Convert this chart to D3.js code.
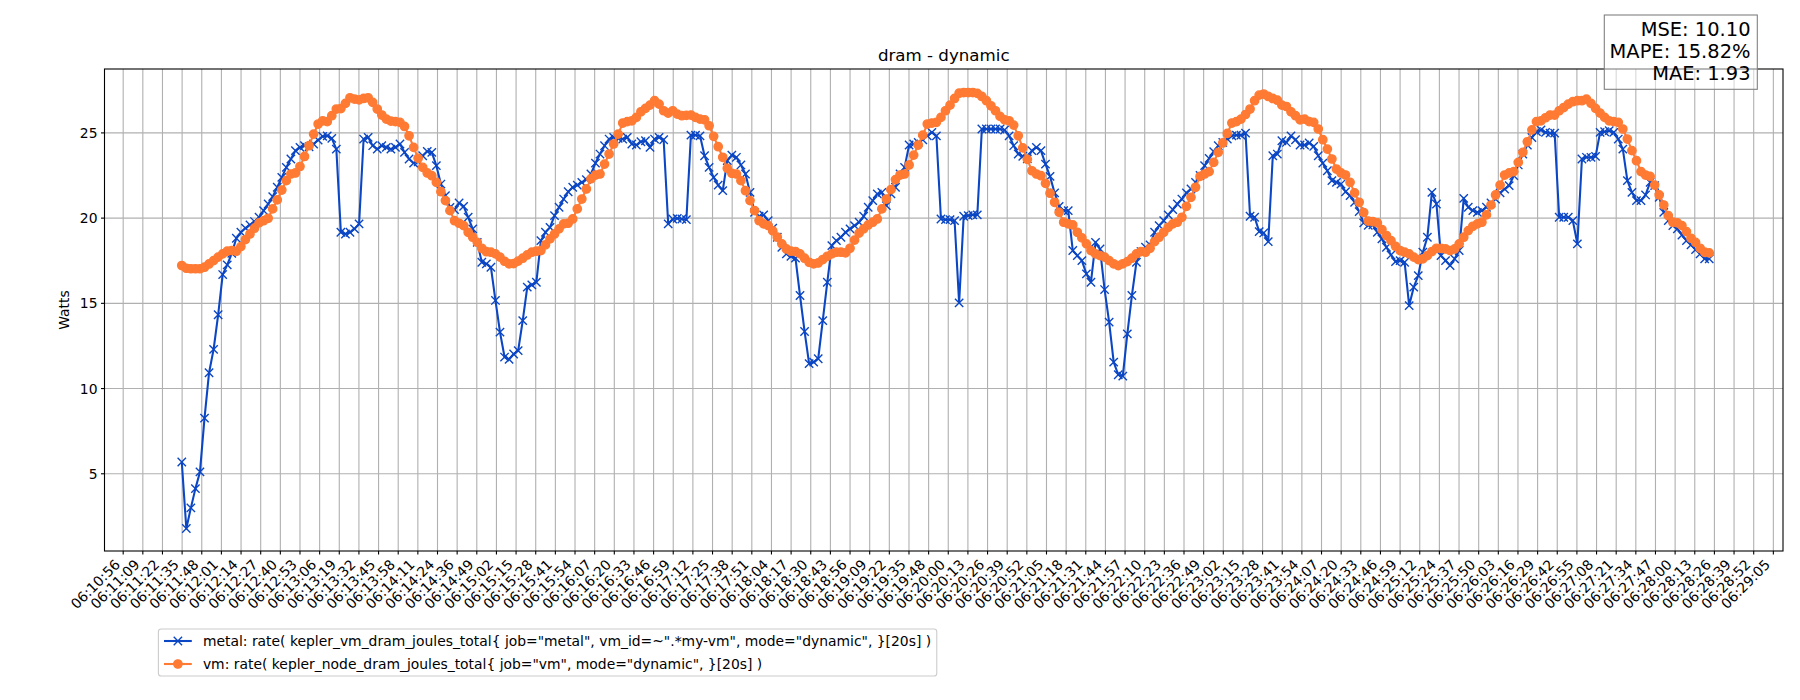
<!DOCTYPE html>
<html><head><meta charset="utf-8">
<script src="https://cdn.jsdelivr.net/npm/d3@7"></script>
<style>body{margin:0;background:#fff} svg{display:block} text{font-family:"DejaVu Sans",sans-serif;fill:#000}</style>
</head><body><svg id="c" width="1800" height="700"></svg>
<script>
const tickLabels = ["06:10:56","06:11:09","06:11:22","06:11:35","06:11:48","06:12:01","06:12:14","06:12:27","06:12:40","06:12:53","06:13:06","06:13:19","06:13:32","06:13:45","06:13:58","06:14:11","06:14:24","06:14:36","06:14:49","06:15:02","06:15:15","06:15:28","06:15:41","06:15:54","06:16:07","06:16:20","06:16:33","06:16:46","06:16:59","06:17:12","06:17:25","06:17:38","06:17:51","06:18:04","06:18:17","06:18:30","06:18:43","06:18:56","06:19:09","06:19:22","06:19:35","06:19:48","06:20:00","06:20:13","06:20:26","06:20:39","06:20:52","06:21:05","06:21:18","06:21:31","06:21:44","06:21:57","06:22:10","06:22:23","06:22:36","06:22:49","06:23:02","06:23:15","06:23:28","06:23:41","06:23:54","06:24:07","06:24:20","06:24:33","06:24:46","06:24:59","06:25:12","06:25:24","06:25:37","06:25:50","06:26:03","06:26:16","06:26:29","06:26:42","06:26:55","06:27:08","06:27:21","06:27:34","06:27:47","06:28:00","06:28:13","06:28:26","06:28:39","06:28:52","06:29:05"];
const sampleStart = "06:11:35";
const sampleStepSeconds = 3;
const metal = [5.66,1.76,2.97,4.10,5.08,8.24,10.9,12.27,14.3,16.66,17.23,17.9,18.79,19.14,19.38,19.57,19.77,20.02,20.41,20.8,
21.23,21.78,22.36,22.95,23.44,23.93,24.12,24.22,24.16,24.32,24.55,24.77,24.8,24.65,24.02,19.14,19.04,19.14,19.34,19.63,
24.61,24.71,24.22,24.02,24.22,24.12,24.02,24.12,24.32,23.83,23.44,23.2,23.28,23.63,23.89,23.83,23.05,21.97,21.29,20.6,
20.47,20.86,20.66,20.02,19.34,18.55,17.38,17.29,17.09,15.14,13.28,11.82,11.68,12.0,12.2,13.96,15.92,16.05,16.21,18.65,
19.14,19.43,20.12,20.61,21.09,21.52,21.78,21.91,22.07,22.23,22.56,23.2,23.73,24.22,24.61,24.71,24.65,24.61,24.71,24.32,
24.26,24.45,24.51,24.12,24.61,24.71,24.57,19.63,19.92,19.96,19.92,19.88,24.84,24.84,24.8,23.63,22.95,22.36,21.91,21.58,
23.34,23.67,23.54,23.09,22.56,21.48,20.31,20.08,20.16,19.82,19.38,18.85,18.26,17.87,17.73,17.62,15.43,13.32,11.43,11.52,
11.72,13.96,16.21,18.36,18.65,18.85,19.14,19.34,19.53,19.73,20.08,20.61,21.0,21.39,21.48,20.7,21.39,21.78,22.56,22.95,
24.26,24.32,24.41,24.57,24.8,25.0,24.8,19.92,19.88,19.88,19.82,15.0,20.08,20.12,20.16,20.16,25.2,25.2,25.2,25.2,
25.2,25.14,24.8,24.22,23.73,23.6,23.45,23.93,24.12,23.93,23.14,22.42,21.45,20.66,20.41,20.41,18.07,17.77,17.48,16.7,
16.21,18.55,18.16,15.78,13.87,11.52,10.78,10.7,13.18,15.43,17.38,18.01,18.26,18.4,19.14,19.53,19.82,20.16,20.47,20.8,
21.09,21.45,21.68,22.07,22.48,23.05,23.48,23.87,24.22,24.41,24.61,24.8,24.84,24.84,24.96,20.08,20.02,19.18,19.1,18.59,
23.63,23.73,24.51,24.41,24.8,24.57,24.26,24.26,24.38,24.18,23.63,23.2,22.75,22.17,22.07,21.97,21.52,21.29,20.9,20.35,
19.69,19.55,19.57,19.14,18.75,18.26,17.81,17.42,17.48,17.38,14.84,15.92,16.6,17.97,18.85,21.48,20.8,17.77,17.48,17.19,
17.58,18.07,21.13,20.61,20.41,20.31,20.41,20.61,20.86,21.09,21.45,21.68,21.88,22.46,23.09,23.73,24.26,24.7,25.05,25.14,
25.0,24.96,24.96,20.02,20.02,20.02,19.82,18.46,23.44,23.54,23.54,23.59,25.0,25.04,25.1,25.0,24.61,24.02,22.17,21.48,
21.0,21.0,21.33,22.07,21.88,21.19,20.31,19.82,19.53,19.34,18.98,18.65,18.4,18.12,17.87,17.58,17.58];
const vm = [17.19,17.03,17.0,17.0,17.0,17.09,17.28,17.48,17.68,17.87,18.03,18.07,18.03,18.3,18.71,19.04,19.38,19.69,19.82,19.96,
20.51,21.04,21.62,22.17,22.56,22.62,23.0,23.59,24.22,24.9,25.49,25.68,25.63,25.98,26.37,26.4,26.7,27.03,26.95,26.91,
26.99,27.03,26.76,26.37,26.02,25.78,25.66,25.63,25.59,25.35,24.8,24.12,23.48,22.95,22.62,22.46,22.07,21.52,21.0,20.41,
19.82,19.67,19.53,19.14,18.85,18.55,18.2,18.0,17.97,17.87,17.68,17.44,17.29,17.3,17.45,17.62,17.81,17.97,18.03,18.07,
18.4,18.75,19.04,19.34,19.63,19.67,19.92,20.51,21.09,21.68,22.27,22.5,22.56,23.14,23.73,24.32,24.9,25.55,25.63,25.68,
25.88,26.21,26.41,26.6,26.86,26.66,26.27,26.13,26.27,26.07,25.98,26.0,26.02,25.88,25.78,25.74,25.39,24.77,24.16,23.54,
22.89,22.6,22.56,22.17,21.58,21.0,20.41,19.82,19.63,19.53,19.22,18.85,18.46,18.16,18.03,18.01,17.87,17.62,17.38,17.29,
17.34,17.54,17.73,17.87,17.97,17.97,17.93,18.2,18.68,19.09,19.34,19.57,19.73,19.92,20.51,21.09,21.64,22.23,22.5,22.56,
23.09,23.67,24.26,24.84,25.49,25.55,25.59,25.88,26.27,26.6,26.99,27.3,27.34,27.34,27.34,27.29,27.11,26.86,26.56,26.27,
25.94,25.74,25.68,25.43,24.8,24.09,23.42,22.75,22.56,22.46,22.01,21.43,20.9,20.31,19.73,19.63,19.57,19.14,18.81,18.46,
18.07,17.87,17.77,17.68,17.48,17.29,17.19,17.29,17.42,17.62,17.87,18.01,17.97,18.2,18.59,18.85,19.14,19.43,19.63,19.73,
20.02,20.66,21.19,21.78,22.42,22.56,22.7,23.24,23.83,24.38,24.94,25.55,25.63,25.78,26.05,26.37,26.86,27.19,27.25,27.11,
26.99,26.89,26.6,26.52,26.21,25.98,25.74,25.78,25.63,25.59,25.2,24.57,24.02,23.44,22.85,22.62,22.5,22.07,21.45,20.9,
20.3,19.8,19.77,19.69,19.3,18.95,18.65,18.32,18.07,17.97,17.87,17.68,17.54,17.58,17.77,18.01,18.2,18.2,18.16,18.07,
18.16,18.46,18.85,19.24,19.49,19.63,19.73,20.16,20.74,21.33,21.91,22.5,22.62,22.7,23.24,23.83,24.45,25.15,25.63,25.68,
25.86,26.02,26.02,26.27,26.46,26.66,26.8,26.86,26.86,26.95,26.7,26.41,26.13,25.88,25.68,25.63,25.59,25.2,24.61,23.93,
23.34,22.7,22.5,22.42,21.91,21.33,20.74,20.12,19.73,19.69,19.53,19.18,18.79,18.55,18.2,17.97,17.93];
const yTicks = [5, 10, 15, 20, 25];
const titleText = "dram - dynamic";
const yLabelText = "Watts";
const seriesNames = ['metal: rate( kepler_vm_dram_joules_total{ job="metal", vm_id=~".*my-vm", mode="dynamic", }[20s] )',
                     'vm: rate( kepler_node_dram_joules_total{ job="vm", mode="dynamic", }[20s] )'];
const statsLines = ["MSE: 10.10", "MAPE: 15.82%", "MAE: 1.93"];

const blue = "#0b46c4", orange = "#ff7a33";
const toSec = s => { const [h, m, x] = s.split(":").map(Number); return h * 3600 + m * 60 + x; };
const t0 = toSec(tickLabels[0]);
const tickTimes = tickLabels.map((_, i) => i * (toSec(tickLabels[tickLabels.length - 1]) - t0) / (tickLabels.length - 1));
const s0 = toSec(sampleStart) - t0;
const times = metal.map((_, i) => s0 + i * sampleStepSeconds);

const L = 104.5, R = 1783, T = 69, B = 551;
const x = d3.scaleLinear().domain([-12.0, 1095.7]).range([L, R]);
const y = d3.scaleLinear().domain([0.44, 28.72]).range([B, T]);

const svg = d3.select("#c");
const g = svg.append("g");

// grid
const gx = g.append("g").attr("transform", `translate(0,${B})`)
  .call(d3.axisBottom(x).tickValues(tickTimes).tickSize(-(B - T)).tickFormat(""));
gx.select(".domain").remove();
gx.selectAll("line").attr("stroke", "#b0b0b0").attr("stroke-width", 1.1);
const gy = g.append("g").attr("transform", `translate(${L},0)`)
  .call(d3.axisLeft(y).tickValues(yTicks).tickSize(-(R - L)).tickFormat(""));
gy.select(".domain").remove();
gy.selectAll("line").attr("stroke", "#b0b0b0").attr("stroke-width", 1.1);

// axes ticks and labels
const ax = g.append("g").attr("transform", `translate(0,${B})`)
  .call(d3.axisBottom(x).tickValues(tickTimes).tickSize(3.5).tickFormat((d, i) => tickLabels[i]));
ax.select(".domain").remove();
ax.selectAll("line").attr("stroke", "#000").attr("stroke-width", 1.1);
ax.selectAll("text").attr("font-size", 13.9).attr("font-family", "DejaVu Sans")
  .attr("y", 0).attr("dy", null).attr("text-anchor", "end")
  .attr("transform", "translate(-2.3,14.6) rotate(-45)");

const ay = g.append("g").attr("transform", `translate(${L},0)`)
  .call(d3.axisLeft(y).tickValues(yTicks).tickSize(3.5).tickPadding(3.5));
ay.select(".domain").remove();
ay.selectAll("line").attr("stroke", "#000").attr("stroke-width", 1.1);
ay.selectAll("text").attr("font-size", 13.9).attr("font-family", "DejaVu Sans").attr("dy", "0.36em");

// data
const line = d3.line().x((d, i) => x(times[i])).y(d => y(d));
const xPath = h => `M${-h},${-h}L${h},${h}M${-h},${h}L${h},${-h}`;
g.append("path").attr("d", line(metal)).attr("fill", "none").attr("stroke", blue).attr("stroke-width", 2.08).attr("stroke-linejoin", "round");
g.append("g").selectAll("path").data(metal).join("path")
  .attr("transform", (d, i) => `translate(${x(times[i])},${y(d)})`)
  .attr("d", xPath(4.17)).attr("stroke", blue).attr("stroke-width", 1.39).attr("fill", "none");
g.append("path").attr("d", line(vm)).attr("fill", "none").attr("stroke", orange).attr("stroke-width", 2.08).attr("stroke-linejoin", "round");
g.append("g").selectAll("circle").data(vm).join("circle")
  .attr("cx", (d, i) => x(times[i])).attr("cy", d => y(d)).attr("r", 4.17)
  .attr("fill", orange).attr("stroke", orange).attr("stroke-width", 1.39);

// spines
g.append("rect").attr("x", L).attr("y", T).attr("width", R - L).attr("height", B - T)
  .attr("fill", "none").attr("stroke", "#000").attr("stroke-width", 1.1);

// title, y label
svg.append("text").attr("x", (L + R) / 2).attr("y", 60.7).attr("text-anchor", "middle").attr("font-size", 16.67).text(titleText);
svg.append("text").attr("transform", `translate(69,${(T + B) / 2}) rotate(-90)`).attr("text-anchor", "middle").attr("font-size", 13.9).text(yLabelText);

// legend
const lg = svg.append("g");
const lx = 158.4, ly = 629;
const rowsY = [641, 664];
const lbox = lg.append("rect").attr("x", lx).attr("y", ly).attr("height", 47).attr("rx", 2.8)
  .attr("fill", "#fff").attr("fill-opacity", 0.8).attr("stroke", "#cccccc").attr("stroke-width", 1.1);
const texts = lg.selectAll("text.lt").data(seriesNames).join("text").attr("class", "lt")
  .attr("x", lx + 44.5).attr("y", (d, i) => rowsY[i]).attr("dy", "0.36em").attr("font-size", 13.9).text(d => d);
let maxW = 0; texts.each(function () { maxW = Math.max(maxW, this.getComputedTextLength()); });
lbox.attr("width", 44.5 + maxW + 5.6);
[[blue, "x"], [orange, "o"]].forEach(([c, m], i) => {
  lg.append("line").attr("x1", lx + 5.6).attr("x2", lx + 33.4).attr("y1", rowsY[i]).attr("y2", rowsY[i]).attr("stroke", c).attr("stroke-width", 2.08);
  if (m === "x") lg.append("path").attr("transform", `translate(${lx + 19.5},${rowsY[i]})`).attr("d", xPath(4.17)).attr("stroke", c).attr("stroke-width", 1.39);
  else lg.append("circle").attr("cx", lx + 19.5).attr("cy", rowsY[i]).attr("r", 4.17).attr("fill", c).attr("stroke", c).attr("stroke-width", 1.39);
});

// stats box
const sb = svg.append("g");
sb.append("rect").attr("x", 1604.3).attr("y", 15).attr("width", 153).attr("height", 74.3)
  .attr("fill", "#fff").attr("fill-opacity", 0.5).attr("stroke", "#808080").attr("stroke-width", 1.1);
sb.selectAll("text").data(statsLines).join("text").attr("x", 1750.5).attr("y", (d, i) => 36 + i * 22.2)
  .attr("text-anchor", "end").attr("font-size", 19.44).text(d => d);
</script></body></html>
